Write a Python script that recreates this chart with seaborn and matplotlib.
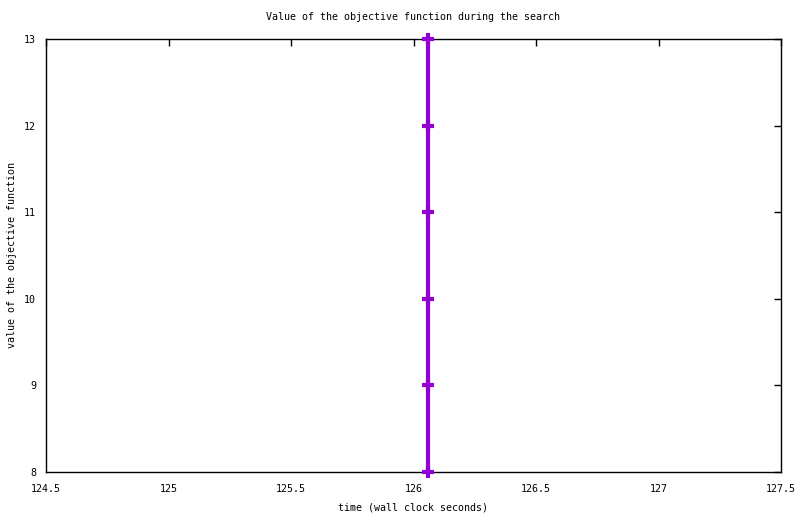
import matplotlib
matplotlib.use("Agg")
import matplotlib.pyplot as plt
import seaborn as sns
import pandas as pd

time_s = [126.06, 126.06, 126.06, 126.06, 126.06, 126.06]
objective = [8, 9, 10, 11, 12, 13]
x_ticks = [124.5, 125, 125.5, 126, 126.5, 127, 127.5]
x_tick_labels = ["124.5", "125", "125.5", "126", "126.5", "127", "127.5"]
y_ticks = [8, 9, 10, 11, 12, 13]

sns.set_style("white")
plt.rcParams['font.family'] = ['DejaVu Sans Mono']
plt.rcParams['font.size'] = 7.2
plt.rcParams['text.color'] = 'black'
plt.rcParams['axes.labelcolor'] = 'black'

df = pd.DataFrame({"time": time_s, "obj": objective})

fig = plt.figure(figsize=(8, 5.14), dpi=100)
ax = fig.add_axes([46/800, 1 - 472/514, (781-46)/800, (472-39)/514])

sns.lineplot(data=df, x="time", y="obj", sort=False, estimator=None,
             color="#9400d3", linewidth=3, marker="+", markersize=8,
             markeredgewidth=3, markeredgecolor="#9400d3", ax=ax,
             clip_on=False, zorder=5)

ax.set_xlim(124.5, 127.5)
ax.set_ylim(8, 13)
ax.set_xticks(x_ticks)
ax.set_xticklabels(x_tick_labels)
ax.set_yticks(y_ticks)
ax.tick_params(direction="in", length=5, width=1, top=True, right=True,
               labelsize=7.2, colors="black")
ax.tick_params(axis="x", pad=9)
ax.tick_params(axis="y", pad=7)
for s in ax.spines.values():
    s.set_color("black")
    s.set_linewidth(1)
ax.set_xlabel("time (wall clock seconds)", fontsize=7.2, labelpad=6, color="black")
ax.set_ylabel("value of the objective function", fontsize=7.2, labelpad=5, color="black")
ax.set_title("Value of the objective function during the search", fontsize=7.2, pad=14, color="black")

fig.savefig("out.png", dpi=100)
